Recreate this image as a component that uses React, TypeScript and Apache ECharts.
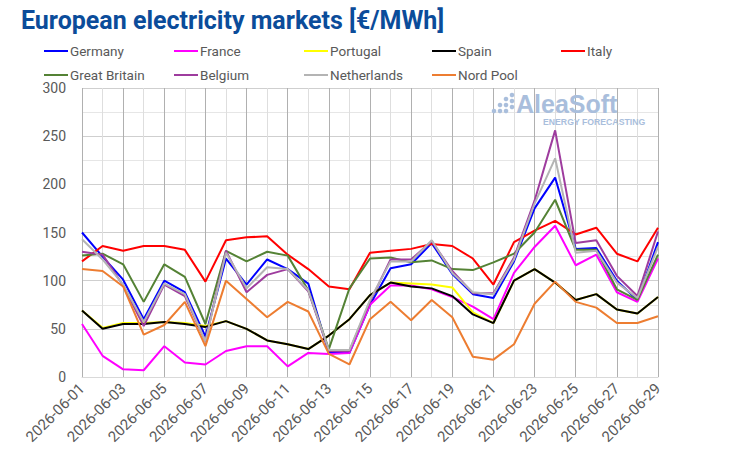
import React, { useEffect, useRef } from "react";
import * as echarts from "echarts";

// Daily day-ahead prices, June 2026 (€/MWh)
const dates = Array.from({ length: 29 }, (_, i) => `2026-06-${String(i + 1).padStart(2, "0")}`);

const germany = [150, 125, 101, 60, 100, 88, 42, 123, 96, 122, 112, 97, 25, 25, 75, 113, 117, 139, 107, 86, 82, 120, 175, 207, 133, 134, 100, 80, 140];
const france = [55, 22, 8, 7, 32, 15, 13, 27, 32, 32, 11, 25, 24, 25, 75, 95, 95, 91, 83, 73, 60, 108, 135, 157, 116, 127, 88, 78, 123];
const portugal = [69, 51, 56, 56, 57, 56, 53, 58, 50, 38, 34, 29, 43, 60, 85, 98, 97, 96, 93, 67, 56, 100, 112, 98, 80, 86, 70, 66, 83];
const spain = [69, 50, 55, 55, 57, 55, 52, 58, 50, 38, 34, 29, 43, 60, 85, 98, 94, 92, 84, 65, 56, 100, 112, 98, 80, 86, 70, 66, 83];
const italy = [120, 136, 131, 136, 136, 132, 99, 142, 145, 146, 127, 112, 94, 91, 129, 131, 133, 138, 136, 123, 96, 140, 152, 162, 148, 155, 128, 120, 155];
const greatBritain = [126, 128, 117, 78, 117, 104, 55, 131, 120, 130, 126, 90, 29, 92, 123, 124, 119, 121, 112, 111, 119, 128, 150, 184, 132, 132, 91, 80, 127];
const belgium = [130, 127, 95, 53, 96, 84, 37, 131, 88, 106, 112, 89, 27, 27, 78, 122, 122, 141, 110, 87, 87, 124, 183, 256, 139, 142, 105, 84, 151];
const netherlands = [143, 122, 96, 57, 97, 86, 37, 129, 92, 114, 112, 90, 28, 28, 80, 120, 120, 142, 108, 88, 86, 122, 180, 227, 129, 131, 98, 82, 135];
const nordPool = [112, 110, 94, 44, 54, 78, 32, 100, 81, 62, 78, 68, 24, 13, 60, 78, 59, 80, 62, 21, 18, 34, 76, 99, 78, 72, 56, 56, 63];

const seriesDefs = [
  { name: "Germany", data: germany, color: "#0000ff" },
  { name: "France", data: france, color: "#ff00ff" },
  { name: "Portugal", data: portugal, color: "#ffff00" },
  { name: "Spain", data: spain, color: "#000000" },
  { name: "Italy", data: italy, color: "#ff0000" },
  { name: "Great Britain", data: greatBritain, color: "#548235" },
  { name: "Belgium", data: belgium, color: "#9e3c9e" },
  { name: "Netherlands", data: netherlands, color: "#b4b4b4" },
  { name: "Nord Pool", data: nordPool, color: "#ed7d31" },
];

const FONT = "Roboto, 'Noto Sans', sans-serif";
const LABEL_GRAY = "#595959";
const LOGO_BLUE = "#a9bedc";

export default function App() {
  const ref = useRef<HTMLDivElement>(null);

  useEffect(() => {
    if (!ref.current) return;
    const chart = echarts.init(ref.current, undefined, { renderer: "svg" });

    // legend laid out as a 5-column grid, two rows
    const colX = [44, 174, 304, 432, 561];
    const legends = seriesDefs.map((s, i) => ({
      data: [s.name],
      left: colX[i % 5],
      top: i < 5 ? 44 : 68,
      padding: 0,
      icon: "rect",
      itemWidth: 24,
      itemHeight: 2,
      selectedMode: false,
      textStyle: { color: LABEL_GRAY, fontSize: 13.5, fontFamily: FONT, padding: [0, 0, 0, -3] },
    }));

    // logo dots
    const dots: any[] = [];
    const dotCols = [
      { x: 494, ys: [111] },
      { x: 500, ys: [105, 111] },
      { x: 506, ys: [99, 105, 111] },
      { x: 512, ys: [95, 101, 107] },
    ];
    dotCols.forEach((c) =>
      c.ys.forEach((y) =>
        dots.push({ type: "circle", shape: { cx: c.x, cy: y, r: 2.3 }, style: { fill: LOGO_BLUE }, z: 1 })
      )
    );

    chart.setOption({
      animation: false,
      backgroundColor: "#ffffff",
      title: {
        text: "European electricity markets [€/MWh]",
        left: 21,
        top: 8,
        padding: 0,
        textStyle: { color: "#0b4c9a", fontSize: 25, fontWeight: "bold", fontFamily: FONT },
      },
      legend: legends,
      grid: { left: 82, right: 73, top: 88, bottom: 95 },
      xAxis: {
        type: "category",
        data: dates,
        boundaryGap: false,
        axisLine: { show: true, lineStyle: { color: "#d9d9d9" } },
        axisTick: { show: false },
        axisLabel: {
          interval: 1,
          rotate: 45,
          color: LABEL_GRAY,
          fontSize: 15,
          fontFamily: FONT,
          margin: 9,
        },
        splitLine: {
          show: true,
          interval: 0,
          lineStyle: { color: ["#b0b0b0", "#dedede"], width: 1 },
        },
      },
      yAxis: {
        type: "value",
        min: 0,
        max: 300,
        interval: 25,
        axisLine: { show: false },
        axisTick: { show: false },
        axisLabel: {
          color: LABEL_GRAY,
          fontSize: 14,
          fontFamily: FONT,
          margin: 16,
          formatter: (v: number) => (v % 50 === 0 ? String(v) : ""),
        },
        splitLine: { show: true, lineStyle: { color: ["#cfcfcf", "#e6e6e6"], width: 1 } },
      },
      graphic: [
        ...dots,
        {
          type: "text",
          x: 516,
          y: 91,
          z: 1,
          style: { text: "AleaSoft", fill: LOGO_BLUE, font: "bold 25px 'Liberation Sans', Arial, sans-serif" },
        },
        {
          type: "text",
          x: 543,
          y: 117,
          z: 1,
          style: { text: "ENERGY FORECASTING", fill: LOGO_BLUE, font: "bold 8.7px 'Liberation Sans', Arial, sans-serif" },
        },
      ],
      series: seriesDefs.map((s) => ({
        name: s.name,
        type: "line",
        data: s.data,
        symbol: "none",
        color: s.color,
        lineStyle: { width: 2, color: s.color },
        z: 3,
      })),
    });

    return () => chart.dispose();
  }, []);

  return (
    <div
      ref={ref}
      style={{ position: "fixed", left: 0, top: 0, width: 731, height: 472 }}
    />
  );
}
